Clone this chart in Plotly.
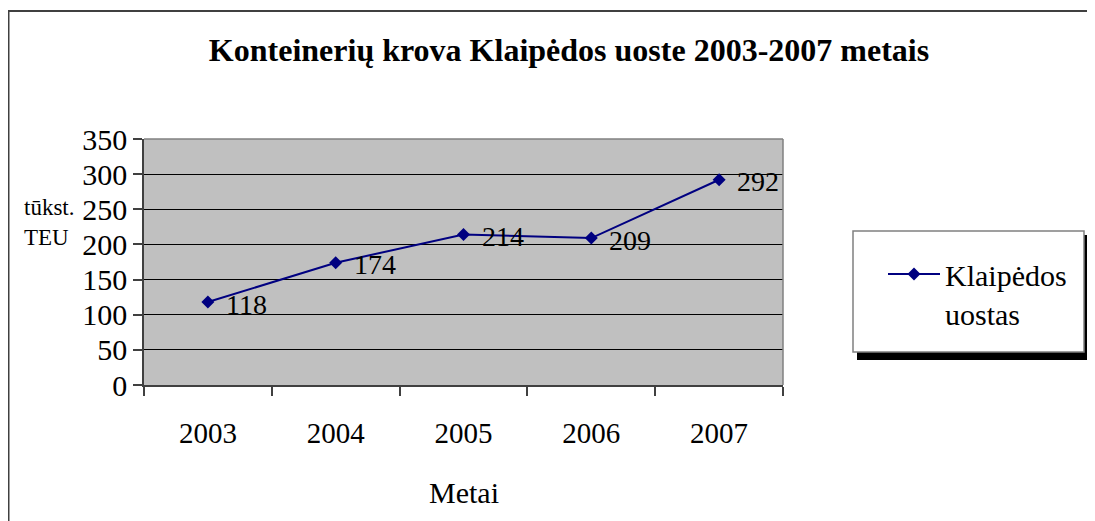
import plotly.graph_objects as go

# ---- data ----
years = ["2003", "2004", "2005", "2006", "2007"]
teu = [118, 174, 214, 209, 292]
y_ticks = [0, 50, 100, 150, 200, 250, 300, 350]
series_name = "Klaipėdos<br>uostas"
title_text = "Konteinerių krova Klaipėdos uoste 2003-2007 metais"
y_title = "tūkst.<br>TEU"
x_title = "Metai"

# ---- layout geometry (pixels, in page coordinates of the target) ----
OFF = 8  # page body margin
W, H = 1095 - OFF, 521 - OFF
PL, PR, PT, PB = 144, 783, 139, 385  # plot area edges in page px
L = PL - OFF
T = PT - OFF
R = W - (PR - OFF)
B = H - (PB - OFF)
PW = W - L - R
PH = H - T - B


def px_x(p):
    """page x pixel -> paper coordinate"""
    return (p - OFF - L) / PW


def px_y(p):
    """page y pixel -> paper coordinate"""
    return (H - B - (p - OFF)) / PH


FONT = '"Liberation Serif", "Times New Roman", serif'
NAVY = "#000080"

fig = go.Figure()
fig.add_trace(go.Scatter(
    x=years, y=teu, mode="lines+markers", name=series_name,
    line=dict(color=NAVY, width=2),
    marker=dict(symbol="diamond", size=10, color=NAVY),
    showlegend=True,
))

annotations = []
for i, v in enumerate(teu):
    annotations.append(dict(
        x=i, y=v, xref="x", yref="y", text=str(v), showarrow=False,
        xanchor="left", yanchor="middle", xshift=16, yshift=-2,
        font=dict(family=FONT, size=28, color="black"),
    ))

annotations.append(dict(
    x=px_x(22), y=px_y(222), xref="paper", yref="paper", text=y_title,
    showarrow=False, xanchor="left", yanchor="middle", align="left",
    font=dict(family=FONT, size=23, color="black"),
))
annotations.append(dict(
    x=0.5, y=px_y(492), xref="paper", yref="paper", text=x_title,
    showarrow=False, xanchor="center", yanchor="middle",
    font=dict(family=FONT, size=30, color="black"),
))

shapes = [
    # outer chart border
    dict(type="rect", xref="paper", yref="paper",
         x0=px_x(8.5), x1=px_x(1400), y0=px_y(900), y1=px_y(11),
         line=dict(color="#404040", width=2), layer="below"),
    # plot area top and right borders
    dict(type="line", xref="x domain", yref="y domain", x0=0, x1=1, y0=1, y1=1,
         line=dict(color="#808080", width=1.5), layer="above"),
    dict(type="line", xref="x domain", yref="y domain", x0=1, x1=1, y0=0, y1=1,
         line=dict(color="#808080", width=1.5), layer="above"),
    # legend shadow and box
    dict(type="rect", xref="paper", yref="paper",
         x0=px_x(857), x1=px_x(1090), y0=px_y(360), y1=px_y(235),
         fillcolor="black", line=dict(width=0), layer="above"),
    dict(type="rect", xref="paper", yref="paper",
         x0=px_x(853), x1=px_x(1084), y0=px_y(352), y1=px_y(231),
         fillcolor="white", line=dict(color="#808080", width=1.5), layer="above"),
]

fig.update_layout(
    width=W, height=H,
    margin=dict(l=L, r=R, t=T, b=B, autoexpand=False),
    paper_bgcolor="white",
    plot_bgcolor="#c0c0c0",
    font=dict(family=FONT, color="black"),
    title=dict(text=title_text, x=(569 - OFF) / W, y=1 - (50 - OFF) / H,
               xanchor="center", yanchor="middle",
               font=dict(family=FONT, size=32, color="black", weight="bold")),
    xaxis=dict(
        type="category", categoryorder="array", categoryarray=years,
        range=[-0.5, len(years) - 0.5],
        tickson="boundaries", ticks="outside", ticklen=9, tickwidth=1.5,
        tickcolor="#404040", showgrid=False, zeroline=False,
        showline=True, linecolor="#404040", linewidth=1.5,
        tickfont=dict(family=FONT, size=29, color="black"),
        ticklabelstandoff=21,
    ),
    yaxis=dict(
        range=[0, 350], tickvals=y_ticks, ticktext=[str(t) for t in y_ticks],
        ticks="outside", ticklen=9, tickwidth=1.5, tickcolor="#404040",
        showgrid=True, gridcolor="black", gridwidth=1, zeroline=False,
        showline=True, linecolor="#404040", linewidth=1.5,
        tickfont=dict(family=FONT, size=30, color="black"),
    ),
    legend=dict(
        x=px_x(883), y=px_y(248), xref="paper", yref="paper",
        xanchor="left", yanchor="top", bgcolor="rgba(0,0,0,0)",
        borderwidth=0, valign="top", itemwidth=52,
        font=dict(family=FONT, size=30, color="black"),
    ),
    annotations=annotations,
    shapes=shapes,
)

fig.write_html("out.html")
